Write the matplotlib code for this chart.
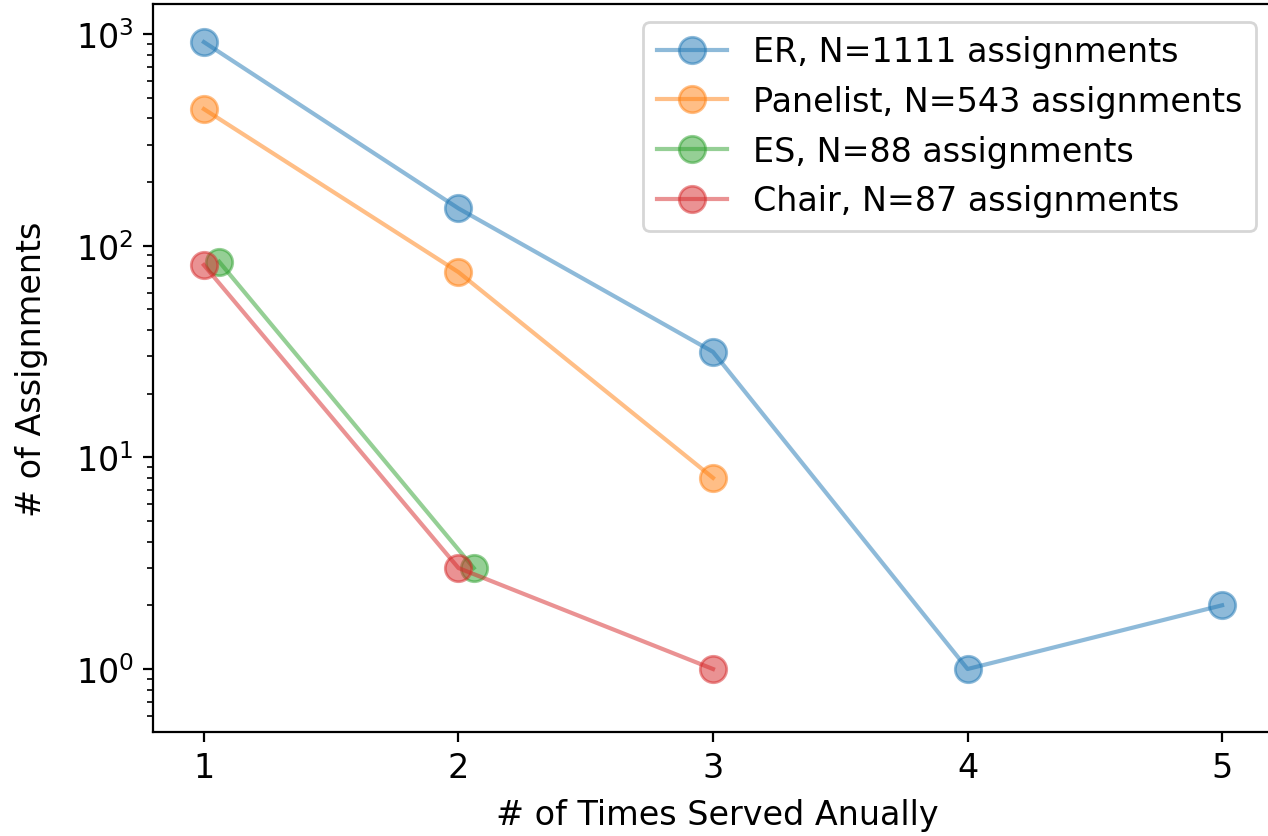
import matplotlib.pyplot as plt
import numpy as np

plt.rcParams["font.size"] = 12

# data
er_x = [1, 2, 3, 4, 5]
er_y = [916, 150, 31.5, 1, 2]
panelist_x = [1, 2, 3]
panelist_y = [442, 75, 8]
es_x = [1.06, 2.06]
es_y = [84, 3]
chair_x = [1, 2, 3]
chair_y = [81, 3, 1]

labels = [
    "ER, N=1111 assignments",
    "Panelist, N=543 assignments",
    "ES, N=88 assignments",
    "Chair, N=87 assignments",
]

fig = plt.figure(figsize=(6.34, 4.185), dpi=200)
# the reference is cropped at the right, so the right spine falls off the canvas
ax = fig.add_axes([153 / 1268, 104 / 837, 1128 / 1268, 728 / 837])

series = [(er_x, er_y), (panelist_x, panelist_y), (es_x, es_y), (chair_x, chair_y)]
for (x, y), lab in zip(series, labels):
    ax.plot(x, y, marker="o", markersize=9.5, alpha=0.5, label=lab)

ax.set_yscale("log")
ax.set_xlim(0.8, 0.8 + 4.4 * 1128 / 1120)
ax.set_ylim(0.504, 1386)
ax.set_xticks([1, 2, 3, 4, 5])
ax.set_xlabel("# of Times Served Anually", labelpad=5)
ax.set_ylabel("# of Assignments", labelpad=10)
ax.legend(loc="upper right", bbox_to_anchor=(1256 / 1268, 814 / 837),
          bbox_transform=fig.transFigure, borderaxespad=0, handlelength=2.1)

fig.savefig("out.png", dpi=200)
